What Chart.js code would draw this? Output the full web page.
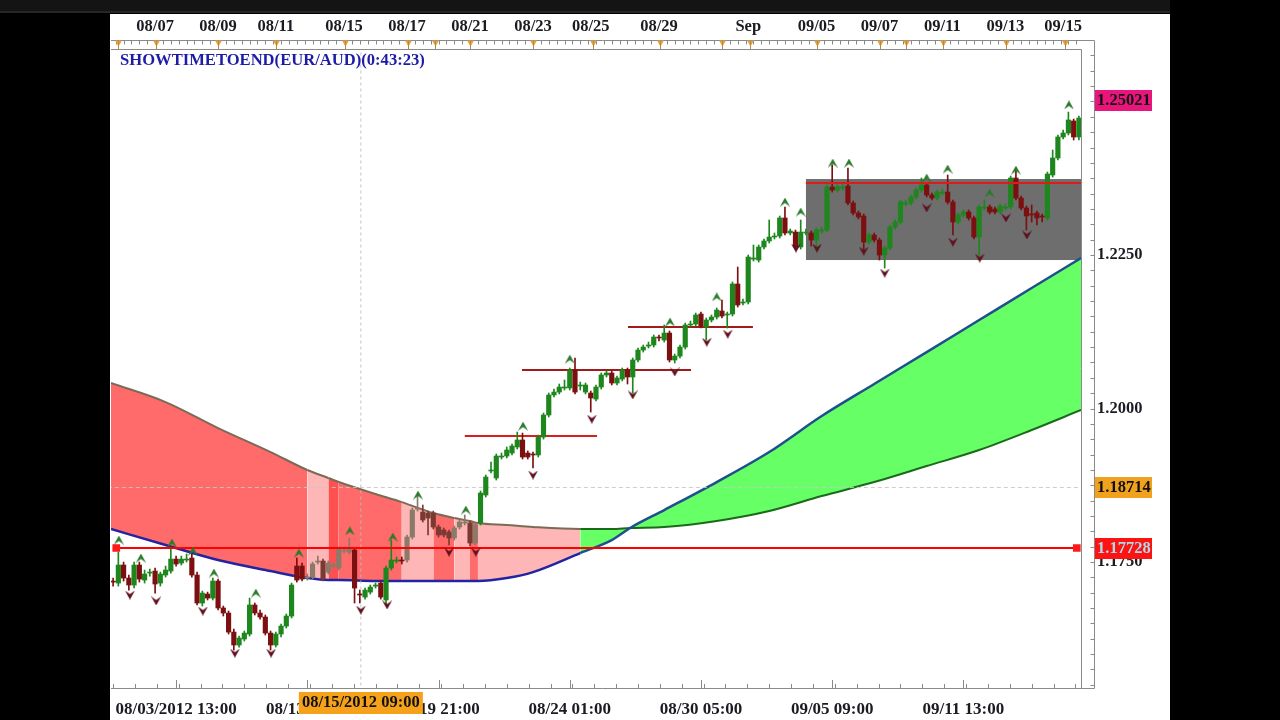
<!DOCTYPE html>
<html>
<head>
<meta charset="utf-8">
<script src="https://cdn.jsdelivr.net/npm/chart.js@4.4.1/dist/chart.umd.min.js"></script>
<style>
  html, body { margin: 0; padding: 0; background: #000; width: 1280px; height: 720px; overflow: hidden; }
  #topbar { position: absolute; left: 0; top: 0; width: 1170px; height: 11px; background: #141414; border-bottom: 2px solid #262626; }
  #panel { position: absolute; left: 110px; top: 14px; width: 1060px; height: 706px; background: #fff; }
  #c { position: absolute; left: 0; top: 0; }
  #title { position: absolute; left: 10px; top: 37px; font: bold 16.6px "Liberation Serif", serif; color: #1c1ca8; line-height: 18px; }
</style>
</head>
<body>
<div id="topbar"></div>
<div id="panel">
  <canvas id="c" width="1060" height="706"></canvas>
  <div id="title">SHOWTIMETOEND(EUR/AUD)(0:43:23)</div>
</div>
<script>
// EUR/AUD 4H candles (index 0 = first bar on the left)
const openP = [
  1.17190,1.17157,1.17451,1.17239,1.17125,1.17451,1.17206,1.17320,1.17353,1.17157,
  1.17288,1.17353,1.17548,1.17483,1.17532,1.17565,1.17288,1.16832,1.16978,1.16913,
  1.17190,1.16751,1.16669,1.16359,1.16148,1.16245,1.16327,1.16800,1.16669,1.16604,
  1.16343,1.16148,1.16327,1.16457,1.16620,1.17434,1.17434,1.17239,1.17255,1.17499,
  1.17516,1.17336,1.17434,1.17402,1.17679,1.17662,1.17695,1.16978,1.16929,1.17010,
  1.17108,1.17157,1.16881,1.17402,1.17516,1.17532,1.17532,1.17907,1.18362,1.18313,
  1.18297,1.18297,1.18070,1.18021,1.17988,1.17891,1.18070,1.18135,1.18135,1.17809,
  1.18135,1.18591,1.18982,1.18868,1.19210,1.19226,1.19275,1.19373,1.19487,1.19275,
  1.19259,1.19243,1.19535,1.19894,1.20220,1.20268,1.20334,1.20334,1.20627,1.20366,
  1.20268,1.20252,1.20154,1.20350,1.20546,1.20578,1.20415,1.20480,1.20627,1.20513,
  1.20790,1.20952,1.21017,1.21034,1.21164,1.21115,1.21229,1.20790,1.20854,1.21001,
  1.21360,1.21376,1.21539,1.21327,1.21441,1.21490,1.21588,1.21523,1.21539,1.22028,
  1.21718,1.21734,1.22434,1.22418,1.22630,1.22728,1.22793,1.22809,1.23103,1.22858,
  1.22874,1.22630,1.22858,1.22858,1.22744,1.22891,1.22907,1.23607,1.23558,1.23591,
  1.23623,1.23347,1.23184,1.23135,1.22711,1.22826,1.22744,1.22500,1.22614,1.22956,
  1.23037,1.23331,1.23347,1.23444,1.23558,1.23640,1.23477,1.23428,1.23509,1.23525,
  1.23363,1.23037,1.23152,1.23200,1.23103,1.22793,1.23266,1.23282,1.23249,1.23200,
  1.23266,1.23282,1.23754,1.23428,1.23266,1.23168,1.23184,1.23135,1.23103,1.23803,
  1.24080,1.24422,1.24487,1.24683,1.24422
];
const highP = [
  1.17239,1.17662,1.17499,1.17288,1.17499,1.17499,1.17369,1.17385,1.17402,1.17336,
  1.17434,1.17744,1.17597,1.17597,1.17630,1.17630,1.17336,1.17027,1.17010,1.17239,
  1.17222,1.16783,1.16702,1.16408,1.16294,1.16376,1.16913,1.16832,1.16718,1.16637,
  1.16376,1.16359,1.16490,1.16653,1.17157,1.17565,1.17483,1.17304,1.17499,1.17597,
  1.17548,1.17516,1.17499,1.17744,1.17744,1.17891,1.17728,1.17043,1.17076,1.17125,
  1.17157,1.17190,1.17434,1.17858,1.17581,1.17581,1.17940,1.18379,1.18591,1.18428,
  1.18330,1.18330,1.18103,1.18054,1.18021,1.18086,1.18184,1.18265,1.18168,1.18135,
  1.18656,1.18917,1.19128,1.19259,1.19275,1.19373,1.19422,1.19616,1.19600,1.19308,
  1.19291,1.19568,1.19926,1.20252,1.20317,1.20399,1.20464,1.20660,1.20822,1.20431,
  1.20415,1.20285,1.20383,1.20578,1.20611,1.20611,1.20529,1.20660,1.20660,1.20822,
  1.20985,1.21034,1.21082,1.21197,1.21197,1.21360,1.21262,1.20887,1.21034,1.21392,
  1.21425,1.21555,1.21571,1.21474,1.21523,1.21637,1.21767,1.21571,1.22060,1.22304,
  1.21783,1.22500,1.22663,1.22663,1.22760,1.23070,1.22858,1.23135,1.23282,1.22923,
  1.22907,1.23070,1.22923,1.22891,1.22940,1.22956,1.23640,1.23966,1.23640,1.23656,
  1.23917,1.23380,1.23217,1.23168,1.22858,1.22858,1.22777,1.22646,1.22989,1.23070,
  1.23396,1.23396,1.23477,1.23591,1.23754,1.23672,1.23509,1.23558,1.23574,1.23803,
  1.23396,1.23184,1.23233,1.23233,1.23135,1.23315,1.23396,1.23315,1.23282,1.23331,
  1.23331,1.23786,1.23884,1.23460,1.23298,1.23315,1.23217,1.23168,1.23851,1.24210,
  1.24455,1.24536,1.24828,1.24714,1.24763
];
const lowP = [
  1.17108,1.17108,1.17190,1.17043,1.17076,1.17173,1.17157,1.17271,1.16994,1.17108,
  1.17255,1.17320,1.17434,1.17451,1.17499,1.17255,1.16800,1.16783,1.16881,1.16881,
  1.16718,1.16620,1.16327,1.16066,1.16115,1.16213,1.16294,1.16637,1.16571,1.16311,
  1.16066,1.16115,1.16278,1.16425,1.16588,1.17173,1.17190,1.17206,1.17222,1.17467,
  1.17190,1.17304,1.17402,1.17369,1.17646,1.17630,1.16832,1.16832,1.16896,1.16978,
  1.17076,1.16896,1.16800,1.17369,1.17483,1.17467,1.17499,1.17874,1.18330,1.18151,
  1.17940,1.18037,1.17907,1.17907,1.17777,1.17858,1.18037,1.18103,1.17760,1.17777,
  1.18103,1.18558,1.18949,1.18835,1.19177,1.19194,1.19243,1.19340,1.19177,1.19177,
  1.19031,1.19210,1.19502,1.19861,1.20187,1.20236,1.20301,1.20301,1.20236,1.20301,
  1.20236,1.19942,1.20122,1.20317,1.20513,1.20383,1.20383,1.20448,1.20399,1.20252,
  1.20757,1.20919,1.20985,1.21001,1.21099,1.21082,1.20757,1.20741,1.20822,1.20968,
  1.21327,1.21343,1.21311,1.21115,1.21408,1.21457,1.21474,1.21311,1.21506,1.21653,
  1.21686,1.21702,1.22402,1.22385,1.22597,1.22695,1.22760,1.22777,1.22826,1.22826,
  1.22597,1.22597,1.22826,1.22646,1.22581,1.22858,1.22874,1.23525,1.23525,1.23558,
  1.23315,1.23152,1.23086,1.22581,1.22679,1.22711,1.22418,1.22288,1.22581,1.22923,
  1.23005,1.23298,1.23315,1.23411,1.23525,1.23444,1.23396,1.23396,1.23477,1.23331,
  1.22826,1.23005,1.23119,1.23070,1.22760,1.22500,1.23233,1.23168,1.23168,1.23168,
  1.23233,1.23249,1.23396,1.23233,1.22907,1.23037,1.22989,1.23037,1.23070,1.23770,
  1.24047,1.24389,1.24455,1.24373,1.24373
];
const closeP = [
  1.17173,1.17451,1.17239,1.17125,1.17451,1.17222,1.17304,1.17336,1.17141,1.17304,
  1.17369,1.17548,1.17467,1.17548,1.17548,1.17288,1.16832,1.16994,1.16913,1.17190,
  1.16751,1.16669,1.16359,1.16148,1.16262,1.16343,1.16800,1.16669,1.16604,1.16343,
  1.16148,1.16327,1.16457,1.16620,1.17125,1.17206,1.17222,1.17255,1.17467,1.17516,
  1.17222,1.17483,1.17451,1.17711,1.17695,1.17728,1.17076,1.16962,1.17043,1.17092,
  1.17125,1.16929,1.17402,1.17532,1.17532,1.17516,1.17907,1.18346,1.18379,1.18184,
  1.18216,1.18070,1.17940,1.17940,1.17891,1.18054,1.18151,1.18151,1.17809,1.18103,
  1.18623,1.18884,1.18998,1.19226,1.19226,1.19324,1.19389,1.19487,1.19210,1.19210,
  1.19243,1.19535,1.19894,1.20220,1.20268,1.20350,1.20350,1.20627,1.20268,1.20383,
  1.20383,1.20171,1.20350,1.20546,1.20578,1.20415,1.20497,1.20627,1.20513,1.20790,
  1.20952,1.21001,1.21034,1.21164,1.21148,1.21229,1.20790,1.20854,1.21001,1.21360,
  1.21376,1.21523,1.21343,1.21441,1.21490,1.21604,1.21506,1.21539,1.22028,1.21686,
  1.21734,1.22467,1.22451,1.22630,1.22728,1.22793,1.22809,1.23103,1.22858,1.22891,
  1.22630,1.22874,1.22874,1.22744,1.22907,1.22907,1.23607,1.23558,1.23607,1.23607,
  1.23347,1.23184,1.23119,1.22711,1.22826,1.22744,1.22500,1.22614,1.22956,1.23037,
  1.23363,1.23347,1.23444,1.23558,1.23640,1.23477,1.23428,1.23525,1.23525,1.23363,
  1.23037,1.23152,1.23200,1.23103,1.22793,1.23282,1.23282,1.23200,1.23200,1.23298,
  1.23282,1.23754,1.23428,1.23266,1.23135,1.23152,1.23103,1.23119,1.23819,1.24080,
  1.24422,1.24487,1.24699,1.24422,1.24731
];

// moving average band (slow line on top early on, fast line in blue)
const bandIdx = [-0.4,10,20,30,37,41,43,50,55,61,65,68,69.5,75,80,89,95,98.5,105,115,125,135,145,155,165,175,184.4];
const slowMA = [1.20415,1.20105,1.19682,1.19291,1.18998,1.18868,1.18802,1.18607,1.18476,1.18297,1.18216,1.18168,1.18135,
                1.18103,1.18070,1.18037,1.18037,1.18054,1.18070,1.18168,1.18330,1.18574,1.18802,1.19063,1.19324,1.19649,1.19975];
const fastMA = [1.18037,1.17777,1.17532,1.17353,1.17239,1.17206,1.17206,1.17190,1.17190,1.17190,1.17190,1.17190,1.17190,
                1.17239,1.17336,1.17646,1.17858,1.18054,1.18346,1.18802,1.19291,1.19877,1.20399,1.20919,1.21441,1.21963,1.22451];
// zone of each band segment: r = red, p = pale, d = dark red, g = green
const bandZone = ['r','r','r','r','p','d','r','r','p','r','p','r','p','p','p','g','g','g','g','g','g','g','g','g','g','g'];
// bars drawn muted (inside the pale band areas)
const mutedFrom = [37, 56], mutedTo = [45, 69];

// swing arrows
const upIdx = [1.1,5.3,11.2,15.2,19.2,27.2,35.4,45.1,53.3,58.1,67.2,78.1,87.0,106.1,115.0,128.0,131.0,137.1,140.2,155.0,159.0,167.0,172.0,182.1];
const upPrice = [1.17858,1.17565,1.17809,1.17679,1.17320,1.16994,1.17646,1.18005,1.17907,1.18591,1.18346,1.19714,1.20805,
                 1.21408,1.21816,1.23363,1.23200,1.23998,1.23998,1.23754,1.23900,1.23509,1.23884,1.24943];
const downIdx = [3.2,8.2,17.1,23.2,30.1,47.2,52.2,64.0,69.1,80.0,91.2,99.0,107.0,113.1,117.1,130.1,134.1,143.0,147.0,155.0,160.0,165.1,170.1,174.1];
const downPrice = [1.16962,1.16865,1.16702,1.16017,1.16017,1.16718,1.16800,1.17662,1.17662,1.18917,1.19828,1.20220,1.20595,
                   1.21082,1.21213,1.22614,1.22614,1.22565,1.22206,1.23266,1.22711,1.22451,1.23103,1.22826];

// short resistance lines
const resFrom = [67.0, 77.9, 98.1];
const resTo = [92.2, 110.1, 121.9];
const resPrice = [1.19551, 1.20627, 1.21327];

// consolidation box and levels
const boxFrom = 132, boxTop = 1.23737, boxBottom = 1.22418, boxLine = 1.23672;
const levelPrice = 1.17728, levelFrom = 0.6, levelTo = 183.6;
const crossIdx = 47.2, crossPrice = 1.18714;
const priceTags = [1.25021, 1.18714, 1.17728];

// axes
const yTicks = [1.1750, 1.2000, 1.2250];
const bottomTickIdx = [12, 37, 62, 87, 112, 137, 162];
const bottomLabels = ['08/03/2012 13:00','08/13 17:00','08/19 21:00','08/24 01:00','08/30 05:00','09/05 09:00','09/11 13:00'];
const dayLabelIdx = [8, 20, 31, 44, 56, 68, 80, 91, 104, 121, 134, 146, 158, 170, 181];
const dayLabels = ['08/07','08/09','08/11','08/15','08/17','08/21','08/23','08/25','08/29','Sep','09/05','09/07','09/11','09/13','09/15'];
const dayMarkIdx = [1.0,8.2,20.0,31.0,44.2,56.2,61.3,68.0,80.0,91.4,104.2,116.1,121.3,134.1,146.1,151.0,158.1,170.1,181.4];

const GREEN = '#1d861d', RED = '#7c0f0f', MUTED_UP = '#8a7a6a', MUTED_DN = '#7a3a33';
const zoneFill = { r: '#ff6a6a', p: '#ffb6b6', d: '#ff5050', g: '#66ff66' };
const serif = '"Liberation Serif", "Times New Roman", serif';

function chevron(color, down) {
  const c = document.createElement('canvas');
  c.width = 10; c.height = 9;
  const g = c.getContext('2d');
  g.fillStyle = color;
  g.beginPath();
  if (down) { g.moveTo(5, 9); g.lineTo(10, 0); g.lineTo(5, 3.5); g.lineTo(0, 0); }
  else { g.moveTo(5, 0); g.lineTo(10, 9); g.lineTo(5, 5.5); g.lineTo(0, 9); }
  g.closePath();
  g.fill();
  return c;
}

const idx = openP.map((_, i) => i);
const isMuted = (i) => mutedFrom.some((f, k) => i >= f && i <= mutedTo[k]);
const candleColor = (c) => {
  const i = c.dataIndex, up = closeP[i] >= openP[i];
  if (isMuted(i)) return up ? MUTED_UP : MUTED_DN;
  return up ? GREEN : RED;
};
const pts = (xs, ys) => xs.map((v, i) => ({ x: v, y: ys[i] }));

const datasets = [
  {
    type: 'line', label: 'slow', order: 20,
    data: pts(bandIdx, slowMA),
    borderWidth: 2, pointRadius: 0, cubicInterpolationMode: 'monotone',
    fill: '+1',
    segment: {
      backgroundColor: (s) => zoneFill[bandZone[s.p0DataIndex]],
      borderColor: (s) => bandZone[s.p0DataIndex] === 'g' ? '#1b6a1b' : '#7b6a55'
    },
    borderColor: '#7b6a55', backgroundColor: zoneFill.r
  },
  {
    type: 'line', label: 'fast', order: 19,
    data: pts(bandIdx, fastMA),
    borderWidth: 2.5, pointRadius: 0, cubicInterpolationMode: 'monotone', fill: false,
    borderColor: '#2424a0',
    segment: { borderColor: (s) => bandZone[s.p0DataIndex] === 'g' ? '#1f4f8c' : '#2424a0' }
  },
  {
    type: 'line', label: 'crossV', order: 18,
    data: [{ x: crossIdx, y: 1.15 }, { x: crossIdx, y: 1.27 }],
    borderColor: 'rgba(190,190,190,0.9)', borderWidth: 1, borderDash: [3, 3], pointRadius: 0, fill: false
  },
  {
    type: 'line', label: 'crossH', order: 18,
    data: [{ x: -1, y: crossPrice }, { x: 186, y: crossPrice }],
    borderColor: 'rgba(200,200,200,0.9)', borderWidth: 1, borderDash: [4, 3], pointRadius: 0, fill: false
  },
  ...resPrice.map((p, k) => ({
    type: 'line', label: 'res' + k, order: 6,
    data: [{ x: resFrom[k], y: p }, { x: resTo[k], y: p }],
    borderColor: k === 0 ? '#dd1c1c' : '#a31a1a', borderWidth: 2, pointRadius: 0, fill: false
  })),
  {
    type: 'bar', label: 'wick', order: 4, grouped: false,
    data: idx.map(i => ({ x: i, y: [lowP[i], highP[i]] })),
    backgroundColor: candleColor, barThickness: 1
  },
  {
    type: 'bar', label: 'body', order: 3, grouped: false,
    data: idx.map(i => ({ x: i, y: [openP[i], closeP[i]] })),
    backgroundColor: candleColor, barThickness: 4.5, minBarLength: 1
  },
  {
    type: 'line', label: 'boxLine', order: 2,
    data: [{ x: boxFrom, y: boxLine }, { x: 184.4, y: boxLine }],
    borderColor: '#e01a1a', borderWidth: 2, pointRadius: 0, fill: false
  },
  {
    type: 'line', label: 'level', order: 1,
    data: [{ x: levelFrom, y: levelPrice }, { x: levelTo, y: levelPrice }],
    borderColor: '#ff0000', borderWidth: 2, fill: false,
    pointStyle: 'rect', pointRadius: 4, pointBackgroundColor: '#ff1a1a', pointBorderColor: '#ff1a1a'
  },
  {
    type: 'scatter', label: 'up', order: 0,
    data: pts(upIdx, upPrice), pointStyle: chevron('#2a7a2a', false), pointRadius: 5
  },
  {
    type: 'scatter', label: 'down', order: 0,
    data: pts(downIdx, downPrice), pointStyle: chevron('#5e1020', true), pointRadius: 5
  }
];

const decor = {
  id: 'decor',
  beforeDatasetsDraw(chart) {
    const { ctx, scales: { x, y }, chartArea: a } = chart;
    const bx = x.getPixelForValue(boxFrom);
    const t = y.getPixelForValue(boxTop), b = y.getPixelForValue(boxBottom);
    ctx.save();
    ctx.fillStyle = '#6e6e6e';
    ctx.fillRect(bx, t, a.right - bx, b - t);
    ctx.restore();
  },
  afterDraw(chart) {
    const { ctx, scales: { x, y }, chartArea: a } = chart;
    ctx.save();
    const axisX = a.right + 13.5, rulerY = a.top - 8.5;
    ctx.strokeStyle = '#8a8a8a';
    ctx.lineWidth = 1;
    ctx.beginPath();
    // plot frame
    ctx.moveTo(a.left, a.top + 0.5); ctx.lineTo(a.right + 0.5, a.top + 0.5); ctx.lineTo(a.right + 0.5, a.bottom);
    // price axis line and time axis lines
    ctx.moveTo(axisX, rulerY); ctx.lineTo(axisX, a.bottom + 0.5);
    ctx.moveTo(a.left, a.bottom + 0.5); ctx.lineTo(axisX, a.bottom + 0.5);
    ctx.moveTo(a.left, rulerY); ctx.lineTo(axisX, rulerY);
    // price axis ticks
    for (let v = 1.155; v < y.max; v += 0.0025) {
      const py = Math.round(y.getPixelForValue(v)) + 0.5;
      ctx.moveTo(axisX - 4, py); ctx.lineTo(axisX, py);
    }
    // bottom ticks
    for (let v = 0; v <= x.max; v += 25 / 6) {
      const px = Math.round(x.getPixelForValue(v)) + 0.5;
      ctx.moveTo(px, a.bottom); ctx.lineTo(px, a.bottom - 4);
    }
    for (const t of bottomTickIdx) {
      const px = Math.round(x.getPixelForValue(t)) + 0.5;
      ctx.moveTo(px, a.bottom); ctx.lineTo(px, a.bottom - 8);
    }
    // top ruler ticks
    for (let v = 0.5; v <= x.max; v += 1.5) {
      const px = Math.round(x.getPixelForValue(v)) + 0.5;
      ctx.moveTo(px, rulerY); ctx.lineTo(px, rulerY + 4);
    }
    ctx.stroke();

    // day markers on the ruler
    ctx.fillStyle = '#e6a23c';
    ctx.strokeStyle = '#b88a40';
    for (const d of dayMarkIdx) {
      const px = Math.round(x.getPixelForValue(d)) + 0.5;
      ctx.beginPath();
      ctx.moveTo(px - 3.5, rulerY); ctx.lineTo(px + 3.5, rulerY); ctx.lineTo(px, rulerY + 6); ctx.closePath();
      ctx.fill();
      ctx.beginPath(); ctx.moveTo(px, rulerY); ctx.lineTo(px, rulerY + 9); ctx.stroke();
    }

    // price tags
    const tagColors = ['#e8157c', '#f0a21e', '#ff1212'];
    const tagText = ['#111', '#111', '#a9dbe8'];
    ctx.font = 'bold 16.5px ' + serif;
    ctx.textBaseline = 'middle';
    ctx.textAlign = 'left';
    priceTags.forEach((p, k) => {
      const py = Math.round(y.getPixelForValue(p));
      ctx.fillStyle = tagColors[k];
      ctx.fillRect(a.right + 14, py - 10, 57, 21);
      ctx.fillStyle = tagText[k];
      ctx.fillText(p.toFixed(5), a.right + 16, py + 1);
    });

    // crosshair time tag
    const cx = x.getPixelForValue(crossIdx);
    ctx.fillStyle = '#f5a21a';
    ctx.fillRect(cx - 62, a.bottom + 4, 124, 22);
    ctx.fillStyle = '#111';
    ctx.font = 'bold 16.5px ' + serif;
    ctx.textAlign = 'center';
    ctx.fillText('08/15/2012 09:00', cx, a.bottom + 15);
    ctx.restore();
  }
};

const labelFont = { family: serif, size: 16.5, weight: 'bold' };
// keep the plot area edge-to-edge: no extra room for the first/last label
const noEdgePad = (a) => { a.paddingLeft = 0; a.paddingRight = 0; };

new Chart(document.getElementById('c').getContext('2d'), {
  type: 'bar',
  data: { datasets },
  options: {
    responsive: false,
    animation: false,
    events: [],
    layout: { autoPadding: false, padding: { left: 1, right: 0, top: 0, bottom: 0 } },
    plugins: { legend: { display: false }, tooltip: { enabled: false } },
    scales: {
      x: {
        type: 'linear', position: 'bottom', min: -0.4, max: 184.4, offset: false,
        grid: { display: false, drawTicks: false }, border: { display: false },
        afterBuildTicks: (a) => { a.ticks = bottomTickIdx.map(v => ({ value: v })); },
        afterFit: (a) => { a.height = 32; noEdgePad(a); },
        ticks: {
          autoSkip: false, maxRotation: 0, padding: 11, color: '#1b1b22',
          font: { family: serif, size: 17, weight: 'bold' },
          callback: (v) => bottomLabels[bottomTickIdx.indexOf(v)] ?? ''
        }
      },
      xTop: {
        type: 'linear', position: 'top', min: -0.4, max: 184.4, offset: false,
        grid: { display: false, drawTicks: false }, border: { display: false },
        afterBuildTicks: (a) => { a.ticks = dayLabelIdx.map(v => ({ value: v })); },
        afterFit: (a) => { a.height = 35; noEdgePad(a); },
        ticks: {
          autoSkip: false, maxRotation: 0, padding: 12, color: '#1b1b22', font: labelFont,
          callback: (v) => dayLabels[dayLabelIdx.indexOf(v)] ?? ''
        }
      },
      y: {
        type: 'linear', position: 'right', min: 1.15448, max: 1.25855,
        grid: { display: false, drawTicks: false }, border: { display: false },
        afterBuildTicks: (a) => { a.ticks = yTicks.map(v => ({ value: v })); },
        afterFit: (a) => { a.width = 89; },
        ticks: {
          autoSkip: false, padding: 16, color: '#1b1b22',
          font: { family: serif, size: 16.5, weight: 'bold' },
          callback: (v) => v.toFixed(4)
        }
      }
    }
  },
  plugins: [decor]
});
</script>
</body>
</html>
